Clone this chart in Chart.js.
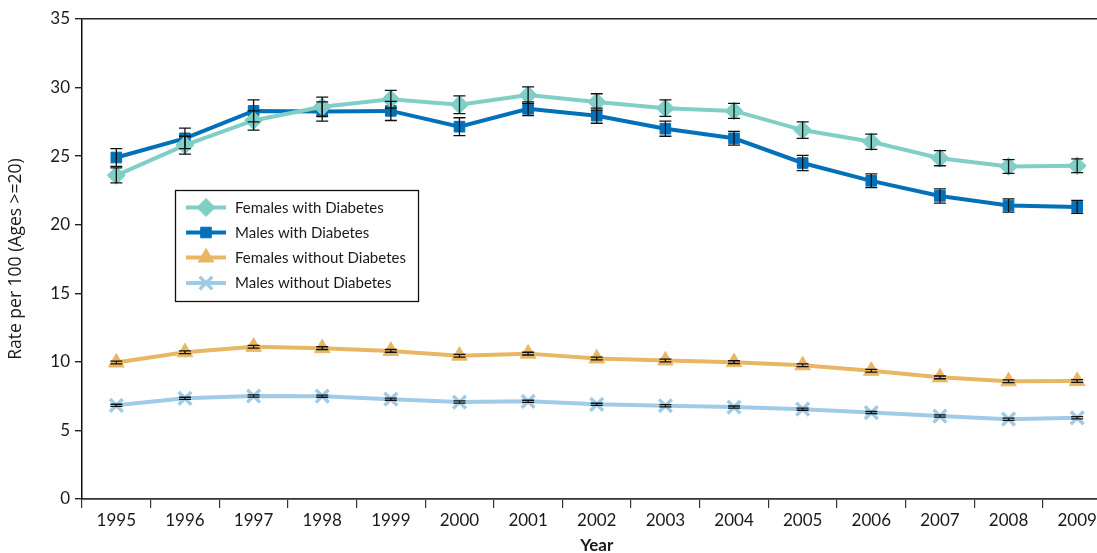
<!DOCTYPE html>
<html>
<head>
<meta charset="utf-8">
<script src="https://cdn.jsdelivr.net/npm/chart.js@4.4.0/dist/chart.umd.min.js"></script>
<style>
  html, body { margin: 0; padding: 0; background: #fff; overflow: hidden; }
  #wrap { position: relative; width: 1097px; height: 553px; overflow: hidden; }
  canvas { display: block; }
</style>
</head>
<body>
<div id="wrap"><canvas id="c" width="1124" height="562"></canvas></div>
<script>
const years = ['1995','1996','1997','1998','1999','2000','2001','2002','2003','2004','2005','2006','2007','2008','2009'];
const femalesWithDiabetes = [23.6, 25.8, 27.6, 28.6, 29.15, 28.75, 29.45, 28.95, 28.5, 28.3, 26.9, 26.05, 24.85, 24.25, 24.3];
const malesWithDiabetes = [24.9, 26.3, 28.3, 28.25, 28.3, 27.15, 28.45, 27.95, 27.0, 26.3, 24.5, 23.2, 22.1, 21.4, 21.3];
const femalesWithoutDiabetes = [9.95, 10.7, 11.1, 11.0, 10.8, 10.45, 10.6, 10.25, 10.1, 9.98, 9.75, 9.35, 8.87, 8.58, 8.6];
const malesWithoutDiabetes = [6.83, 7.34, 7.51, 7.5, 7.28, 7.07, 7.12, 6.9, 6.8, 6.7, 6.55, 6.3, 6.05, 5.82, 5.92];
const errFemalesWith = [0.55, 0.65, 0.7, 0.7, 0.65, 0.65, 0.6, 0.6, 0.6, 0.55, 0.6, 0.55, 0.55, 0.5, 0.5];
const errMalesWith = [0.65, 0.75, 0.8, 0.7, 0.7, 0.65, 0.5, 0.55, 0.55, 0.5, 0.55, 0.5, 0.52, 0.48, 0.48];
const errFemalesWithout = [0.1, 0.1, 0.1, 0.1, 0.1, 0.1, 0.1, 0.1, 0.1, 0.1, 0.1, 0.1, 0.1, 0.1, 0.1];
const errMalesWithout = [0.08, 0.08, 0.08, 0.08, 0.08, 0.08, 0.08, 0.08, 0.08, 0.08, 0.08, 0.08, 0.08, 0.08, 0.08];
const yTicks = [0, 5, 10, 15, 20, 25, 30, 35];

const FONT = 'Lato, "Open Sans", "DejaVu Sans", sans-serif';
const TEAL = '#80cfc7', BLUE = '#0271b9', ORANGE = '#e9b664', LBLUE = '#9fcbe7';

const seriesDefs = [
  { label: 'Females with Diabetes', data: femalesWithDiabetes, err: errFemalesWith, color: TEAL, style: 'rectRot', r: 9, bw: 1 },
  { label: 'Males with Diabetes', data: malesWithDiabetes, err: errMalesWith, color: BLUE, style: 'rect', r: 7.5, bw: 1 },
  { label: 'Females without Diabetes', data: femalesWithoutDiabetes, err: errFemalesWithout, color: ORANGE, style: 'triangle', r: 9, bw: 1 },
  { label: 'Males without Diabetes', data: malesWithoutDiabetes, err: errMalesWithout, color: LBLUE, style: 'crossRot', r: 9, bw: 3.5 }
];

function drawMarker(ctx, style, r, bw, color, x, y) {
  const opts = { pointStyle: style, radius: r, borderWidth: bw, rotation: 0 };
  ctx.save();
  ctx.fillStyle = color; ctx.strokeStyle = color; ctx.lineWidth = bw;
  if (Chart.helpers && Chart.helpers.drawPoint) {
    Chart.helpers.drawPoint(ctx, opts, x, y);
  }
  ctx.restore();
}

const errorBars = {
  id: 'errorBars',
  afterDatasetsDraw(chart) {
    const ctx = chart.ctx;
    const ys = chart.scales.y;
    ctx.save();
    ctx.strokeStyle = '#111';
    ctx.lineWidth = 1.3;
    chart.data.datasets.forEach((ds, di) => {
      const meta = chart.getDatasetMeta(di);
      const errs = seriesDefs[di].err;
      meta.data.forEach((pt, i) => {
        const v = ds.data[i];
        const x = pt.x;
        const y1 = ys.getPixelForValue(v - errs[i]);
        const y2 = ys.getPixelForValue(v + errs[i]);
        const cap = 6;
        ctx.beginPath();
        ctx.moveTo(x, y1); ctx.lineTo(x, y2);
        ctx.moveTo(x - cap, y1); ctx.lineTo(x + cap, y1);
        ctx.moveTo(x - cap, y2); ctx.lineTo(x + cap, y2);
        ctx.stroke();
      });
    });
    ctx.restore();
  }
};

const boxLegend = {
  id: 'boxLegend',
  afterDraw(chart) {
    const ctx = chart.ctx;
    const bx = 175, by = 190, bw = 243, bh = 111;
    ctx.save();
    ctx.fillStyle = '#fff';
    ctx.fillRect(bx, by, bw, bh);
    ctx.strokeStyle = '#111';
    ctx.lineWidth = 1.3;
    ctx.strokeRect(bx + 0.5, by + 0.5, bw, bh);
    const rows = [207.5, 232.5, 257.5, 283];
    seriesDefs.forEach((s, i) => {
      const y = rows[i];
      ctx.strokeStyle = s.color;
      ctx.lineWidth = 4;
      ctx.beginPath(); ctx.moveTo(186, y); ctx.lineTo(226, y); ctx.stroke();
      drawMarker(ctx, s.style, s.r, s.bw, s.color, 206, y);
      ctx.fillStyle = '#1a1a1a';
      ctx.font = '15px ' + FONT;
      ctx.textBaseline = 'middle';
      ctx.textAlign = 'left';
      ctx.fillText(s.label, 235, y + 0.5);
    });
    ctx.restore();
  }
};

new Chart(document.getElementById('c'), {
  type: 'line',
  data: {
    labels: years,
    datasets: seriesDefs.map(s => ({
      label: s.label,
      data: s.data,
      borderColor: s.color,
      backgroundColor: s.color,
      borderWidth: 4,
      pointStyle: s.style,
      pointRadius: s.r,
      pointHoverRadius: s.r,
      pointBorderWidth: s.bw,
      pointBackgroundColor: s.color,
      pointBorderColor: s.color,
      tension: 0,
      fill: false
    }))
  },
  options: {
    responsive: false,
    animation: false,
    events: [],
    layout: { padding: { top: 19, right: 1, bottom: 0, left: 0 } },
    plugins: { legend: { display: false }, tooltip: { enabled: false } },
    scales: {
      x: {
        type: 'category',
        offset: true,
        grid: { display: true, drawOnChartArea: false, drawTicks: true, tickLength: 9, offset: true, color: '#333', lineWidth: 1.2 },
        border: { display: true, color: '#333', width: 1.8 },
        ticks: { color: '#1a1a1a', font: { family: FONT, size: 17 }, padding: 2, maxRotation: 0, autoSkip: false },
        title: { display: true, text: 'Year', color: '#1a1a1a', font: { family: FONT, size: 17, weight: 'bold' }, padding: { top: 0, bottom: 6 } },
        afterFit(scale) { scale.height = 63; }
      },
      y: {
        min: 0, max: 35,
        afterBuildTicks(scale) { scale.ticks = yTicks.map(v => ({ value: v })); },
        grid: {
          display: true, drawOnChartArea: true, drawTicks: true, tickLength: 7,
          color: (c) => (c.tick && c.tick.value === 35) ? '#222' : 'rgba(0,0,0,0)',
          tickColor: '#222', lineWidth: 1.4
        },
        border: { display: true, color: '#111', width: 1.5 },
        ticks: { color: '#1a1a1a', font: { family: FONT, size: 17 }, padding: 5 },
        title: { display: true, text: 'Rate per 100 (Ages >=20)', color: '#1a1a1a', font: { family: '"Open Sans", Lato, sans-serif', size: 17.5 }, padding: { top: 6, bottom: 0 } },
        afterFit(scale) { scale.width = 82; }
      }
    }
  },
  plugins: [errorBars, boxLegend]
});
</script>
</body>
</html>
